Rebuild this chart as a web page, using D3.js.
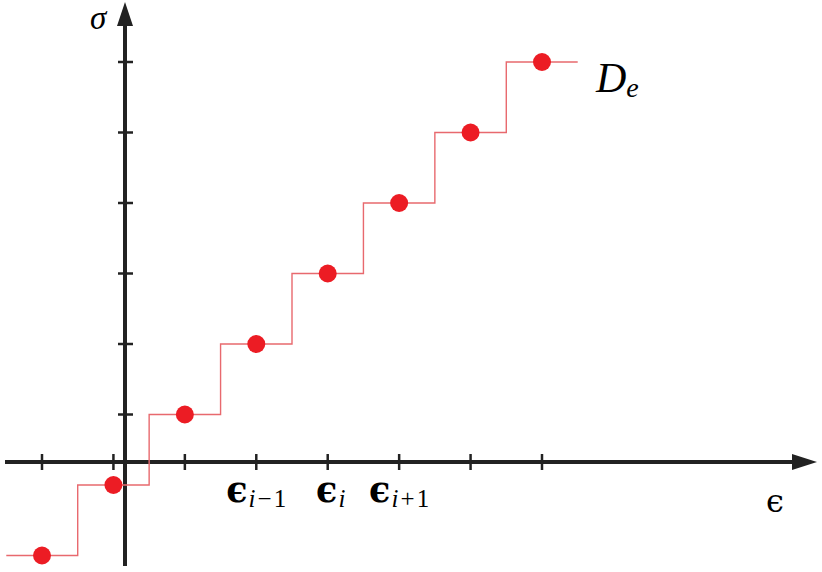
<!DOCTYPE html>
<html>
<head>
<meta charset="utf-8">
<script src="https://cdn.jsdelivr.net/npm/d3@7"></script>
<style>
  body { margin: 0; background: #fff; }
  svg { display: block; }
</style>
</head>
<body>
<div id="chart"></div>
<script>
// step data: strain positions (tick index) and stress levels
const epsPoints = [0, 1, 2, 3, 4, 5, 6, 7];
const sigmaPoints = [-1, 0, 1, 2, 3, 4, 5, 6];
const epsTicks = [0, 1, 2, 3, 4, 5, 6, 7];
const sigmaTicks = [1, 2, 3, 4, 5, 6];
const labelTicks = [3, 4, 5];
const labelSubs = [["i", "\u200a\u2212\u200a1"], ["i", ""], ["i", "\u200a+\u200a1"]];

const width = 822, height = 572;

const svg = d3.select("#chart")
  .append("svg")
  .attr("width", width)
  .attr("height", height);

const x = d3.scaleLinear().domain([0, 7]).range([42, 542]);
const y = d3.scaleLinear().domain([0, 6]).range([485, 62]);

// where the axes cross
const eps0 = 1.162, sig0 = 0.326;
const ax = x(eps0), ay = y(sig0);

// step line
const stepData = epsPoints.map((e, i) => ({ e: e, s: sigmaPoints[i] }));
const stepPts = [];
stepData.forEach(d => {
  stepPts.push([d.e - 0.5, d.s]);
  stepPts.push([d.e + 0.5, d.s]);
});
const line = d3.line().x(d => x(d[0])).y(d => y(d[1]));

// axes
const axisColor = "#222";
svg.append("line")
  .attr("x1", 5).attr("x2", 795)
  .attr("y1", ay).attr("y2", ay)
  .attr("stroke", axisColor).attr("stroke-width", 4);
svg.append("path")
  .attr("d", `M${817},${ay} L${792},${ay - 8} L${792},${ay + 8} Z`)
  .attr("fill", axisColor);

svg.append("line")
  .attr("x1", ax).attr("x2", ax)
  .attr("y1", 566).attr("y2", 22)
  .attr("stroke", axisColor).attr("stroke-width", 4);
svg.append("path")
  .attr("d", `M${ax},2 L${ax - 8},26 L${ax + 8},26 Z`)
  .attr("fill", axisColor);

// ticks
svg.selectAll(".xt")
  .data(epsTicks)
  .join("line")
  .attr("x1", d => x(d)).attr("x2", d => x(d))
  .attr("y1", ay - 8).attr("y2", ay + 8)
  .attr("stroke", axisColor).attr("stroke-width", 2.5);

svg.selectAll(".yt")
  .data(sigmaTicks)
  .join("line")
  .attr("x1", ax - 7).attr("x2", ax + 8)
  .attr("y1", d => y(d)).attr("y2", d => y(d))
  .attr("stroke", axisColor).attr("stroke-width", 2.5);

svg.append("path")
  .attr("d", line(stepPts))
  .attr("fill", "none")
  .attr("stroke", "#e8696e")
  .attr("stroke-width", 1.4);

svg.selectAll(".pt")
  .data(stepData)
  .join("circle")
  .attr("cx", d => x(d.e))
  .attr("cy", d => y(d.s))
  .attr("r", 9)
  .attr("fill", "#ec1c24");

// tick labels
const labs = svg.selectAll(".lab")
  .data(labelTicks)
  .join("text")
  .attr("x", (d, i) => x(d) + (i === 1 ? 3 : 0))
  .attr("y", 502)
  .attr("text-anchor", "middle")
  .attr("font-family", "DejaVu Serif, serif");
labs.append("tspan")
  .attr("font-size", 35)
  .attr("font-weight", "bold")
  .text("\u03f5");
labs.append("tspan")
  .attr("font-size", 25)
  .attr("font-style", "italic")
  .attr("font-family", "Liberation Serif, serif")
  .attr("dy", 5)
  .attr("dx", 1)
  .text((d, i) => labelSubs[i][0]);
labs.append("tspan")
  .attr("font-size", 25)
  .attr("font-family", "Liberation Serif, serif")
  .text((d, i) => labelSubs[i][1]);

// axis titles
svg.append("text")
  .attr("x", 766).attr("y", 512)
  .attr("font-family", "DejaVu Serif, serif")
  .attr("font-size", 32)
  .text("\u03f5");

svg.append("text")
  .attr("x", 90).attr("y", 29)
  .attr("font-family", "Liberation Serif, serif")
  .attr("font-style", "italic")
  .attr("font-size", 33)
  .text("\u03c3");

const de = svg.append("text")
  .attr("x", 596).attr("y", 92)
  .attr("font-family", "Liberation Serif, serif")
  .attr("font-style", "italic")
  .attr("font-size", 42);
de.append("tspan").text("D");
de.append("tspan").attr("font-size", 28).attr("dy", 5).text("e");
</script>
</body>
</html>
